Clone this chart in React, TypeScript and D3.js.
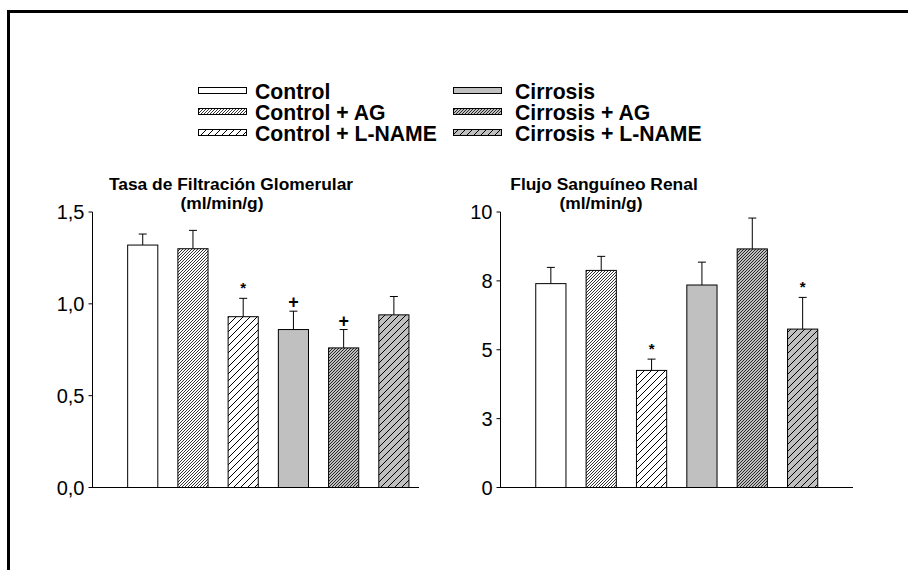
import React from "react";
import * as d3 from "d3";

// Treatment groups, in plotting order
const groups = [
  "Control",
  "Control + AG",
  "Control + L-NAME",
  "Cirrosis",
  "Cirrosis + AG",
  "Cirrosis + L-NAME",
];

// Glomerular filtration rate (ml/min/g): mean and SEM
const gfrMean = [1.32, 1.3, 0.93, 0.86, 0.76, 0.94];
const gfrSem = [0.06, 0.1, 0.1, 0.1, 0.1, 0.1];
const gfrMarks = ["", "", "*", "+", "+", ""];
const gfrTicks = [0, 0.5, 1.0, 1.5];
const gfrTickLabels = ["0,0", "0,5", "1,0", "1,5"];

// Renal blood flow (ml/min/g): mean and SEM
const rbfMean = [7.4, 7.88, 4.25, 7.35, 8.66, 5.75];
const rbfSem = [0.59, 0.51, 0.41, 0.83, 1.12, 1.15];
const rbfMarks = ["", "", "*", "", "", "*"];
const rbfTicks = [0, 2.5, 5, 7.5, 10];
const rbfTickLabels = ["0", "3", "5", "8", "10"];

const FONT = "'Liberation Sans', Arial, Helvetica, sans-serif";
const GRAY = "#c0c0c0";

// Fill for each group: plain, dense hatch, wide hatch, on white or gray
const fills = [
  "#ffffff",
  "url(#hatchDenseWhite)",
  "url(#hatchWideWhite)",
  GRAY,
  "url(#hatchDenseGray)",
  "url(#hatchWideGray)",
];

// Forward-slash hatch tile of side s
function Hatch({ id, s, bg, w }: { id: string; s: number; bg: string; w: number }) {
  const d = `M0,${s} L${s},0 M-1,1 L1,-1 M${s - 1},${s + 1} L${s + 1},${s - 1}`;
  return (
    <pattern id={id} patternUnits="userSpaceOnUse" width={s} height={s}>
      <rect width={s} height={s} fill={bg} />
      <path d={d} stroke="#000" strokeWidth={w} />
    </pattern>
  );
}

type PanelProps = {
  x0: number;
  x1: number;
  yTop: number;
  yBottom: number;
  domainMax: number;
  slots: number;
  means: number[];
  sems: number[];
  marks: string[];
  ticks: number[];
  tickLabels: string[];
  title: string[];
  titleX: number[];
};

function Panel(p: PanelProps) {
  const x = d3.scaleLinear().domain([0, p.slots]).range([p.x0, p.x1]);
  const y = d3.scaleLinear().domain([0, p.domainMax]).range([p.yBottom, p.yTop]);
  const barW = x(0.6) - x(0);
  const capW = 4;
  return (
    <g>
      {p.title.map((t, i) => (
        <text
          key={t}
          x={p.titleX[i]}
          y={p.yTop - 22 + i * 19}
          textAnchor="middle"
          fontFamily={FONT}
          fontWeight="bold"
          fontSize={17.4}
        >
          {t}
        </text>
      ))}
      {p.means.map((m, i) => {
        const cx = x(i + 1);
        const top = y(m);
        const errTop = y(m + p.sems[i]);
        return (
          <g key={groups[i]}>
            <line x1={cx} x2={cx} y1={top} y2={errTop} stroke="#000" strokeWidth={1} />
            <line x1={cx - capW} x2={cx + capW} y1={errTop} y2={errTop} stroke="#000" strokeWidth={1} />
            <rect
              x={cx - barW / 2}
              y={top}
              width={barW}
              height={p.yBottom - top}
              fill={fills[i]}
              stroke="#000"
              strokeWidth={1}
            />
            {p.marks[i] === "*" && (
              <text x={cx} y={errTop - 5} textAnchor="middle" fontFamily={FONT} fontWeight="bold" fontSize={15}>
                *
              </text>
            )}
            {p.marks[i] === "+" && (
              <text x={cx} y={errTop - 3} textAnchor="middle" fontFamily={FONT} fontWeight="bold" fontSize={18}>
                +
              </text>
            )}
          </g>
        );
      })}
      {/* y axis */}
      <line x1={p.x0} x2={p.x0} y1={p.yTop} y2={p.yBottom} stroke="#000" strokeWidth={1} />
      {p.ticks.map((t, i) => (
        <g key={t}>
          <line x1={p.x0 - 4} x2={p.x0} y1={y(t)} y2={y(t)} stroke="#000" strokeWidth={1} />
          <text
            x={p.x0 - 8}
            y={y(t)}
            dy="0.35em"
            textAnchor="end"
            fontFamily={FONT}
            fontSize={20}
          >
            {p.tickLabels[i]}
          </text>
        </g>
      ))}
      {/* x axis */}
      <line x1={p.x0 - 3} x2={p.x1} y1={p.yBottom} y2={p.yBottom} stroke="#000" strokeWidth={1} />
    </g>
  );
}

const legendLeft = [0, 1, 2];
const legendRight = [3, 4, 5];

export default function App() {
  const rows = [91, 112, 133];
  return (
    <svg
      width={908}
      height={570}
      style={{ position: "absolute", left: 0, top: 0, background: "#fff" }}
    >
      <defs>
        <Hatch id="hatchDenseWhite" s={3} w={0.8} bg="#ffffff" />
        <Hatch id="hatchWideWhite" s={7} w={1} bg="#ffffff" />
        <Hatch id="hatchDenseGray" s={3} w={0.8} bg={GRAY} />
        <Hatch id="hatchWideGray" s={7} w={1} bg={GRAY} />
      </defs>
      <rect x={0} y={0} width={908} height={570} fill="#fff" />
      {/* frame */}
      <path d="M8.5,570 V11.5 H908" fill="none" stroke="#000" strokeWidth={3} />

      {/* legend */}
      {[legendLeft, legendRight].map((col, c) =>
        col.map((gi, r) => {
          const sx = c === 0 ? 198 : 453;
          const tx = c === 0 ? 255 : 515;
          return (
            <g key={groups[gi]}>
              <rect x={sx + 0.5} y={rows[r] - 3.5} width={48} height={6} fill={fills[gi]} stroke="#000" strokeWidth={1} />
              <text x={tx} y={rows[r]} dy="0.36em" fontFamily={FONT} fontWeight="bold" fontSize={21.2}>
                {groups[gi]}
              </text>
            </g>
          );
        })
      )}

      <Panel
        x0={92.5}
        x1={419}
        yTop={212}
        yBottom={487.5}
        domainMax={1.5}
        slots={6.5}
        means={gfrMean}
        sems={gfrSem}
        marks={gfrMarks}
        ticks={gfrTicks}
        tickLabels={gfrTickLabels}
        title={["Tasa de Filtración Glomerular", "(ml/min/g)"]}
        titleX={[231, 222]}
      />
      <Panel
        x0={500.5}
        x1={853}
        yTop={212}
        yBottom={487.5}
        domainMax={10}
        slots={7}
        means={rbfMean}
        sems={rbfSem}
        marks={rbfMarks}
        ticks={rbfTicks}
        tickLabels={rbfTickLabels}
        title={["Flujo Sanguíneo Renal", "(ml/min/g)"]}
        titleX={[604, 601]}
      />
    </svg>
  );
}
